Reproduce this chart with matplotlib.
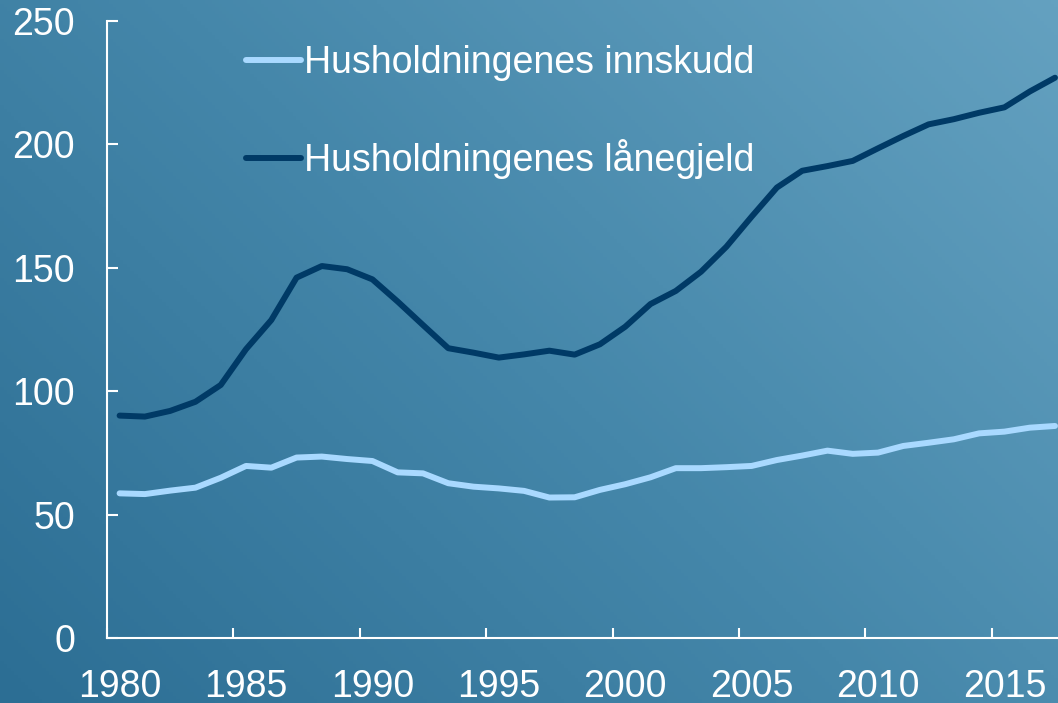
import numpy as np
import matplotlib
matplotlib.use('Agg')
import matplotlib.pyplot as plt
from matplotlib.colors import LinearSegmentedColormap

plt.rcParams['font.family'] = ['Liberation Sans', 'DejaVu Sans']

# data
years = list(range(1980, 2018))
innskudd = [58.6, 58.3, 59.7, 60.9, 64.9, 69.7, 69.0, 73.1, 73.5, 72.5,
            71.7, 67.1, 66.7, 62.7, 61.3, 60.6, 59.6, 56.9, 57.0, 60.0,
            62.3, 65.1, 68.8, 68.8, 69.2, 69.7, 72.1, 73.9, 75.9, 74.6,
            75.1, 77.8, 79.1, 80.5, 82.9, 83.6, 85.2, 85.9]
lanegjeld = [90.1, 89.7, 92.0, 95.7, 102.5, 117.0, 128.8, 146.0, 150.7, 149.4,
             145.3, 136.3, 126.8, 117.4, 115.6, 113.6, 114.9, 116.4, 114.8, 119.0,
             126.1, 135.3, 140.6, 148.4, 158.5, 170.7, 182.5, 189.3, 191.2, 193.3,
             198.4, 203.4, 208.1, 210.2, 212.8, 215.0, 221.4, 227.0]
labels = ['Husholdningenes innskudd', 'Husholdningenes lånegjeld']
light = '#a9d9ff'
dark = '#003a66'

fig = plt.figure(figsize=(10.58, 7.03), dpi=100)

# diagonal gradient background
bg = fig.add_axes([0, 0, 1, 1])
gx, gy = np.meshgrid(np.linspace(0, 1, 300), np.linspace(0, 1, 200))
grad = (gx * 1.058 + gy * 0.703) / (1.058 + 0.703)
cmap = LinearSegmentedColormap.from_list('bg', ['#2c6e94', '#4587aa', '#64a1c0'])
bg.imshow(grad, cmap=cmap, origin='lower', aspect='auto', extent=[0, 1, 0, 1])
bg.axis('off')

ax = fig.add_axes([0.1011, 0.0925, 0.908, 0.8777])
ax.patch.set_alpha(0)
x = np.array(years) + 0.5
ax.plot(x, innskudd, color=light, lw=4.3, solid_capstyle='round', label=labels[0])
ax.plot(x, lanegjeld, color=dark, lw=4.3, solid_capstyle='round', label=labels[1])

ax.set_xlim(1980, 2018)
ax.set_ylim(0, 250)
ax.set_yticks(range(0, 251, 50))
ax.set_xticks(range(1980, 2019, 5))
ax.set_xticklabels([])
ax.set_xticks([y + 0.5 for y in range(1980, 2016, 5)], minor=True)
ax.set_xticklabels([str(y) for y in range(1980, 2016, 5)], minor=True)
ax.tick_params(axis='x', which='major', direction='in', length=7, width=1.5, color='white')
ax.tick_params(axis='x', which='minor', length=0, pad=22, labelsize=27, labelcolor='white')
ax.tick_params(axis='y', direction='in', length=8, width=1.5, color='white',
               pad=23, labelsize=27, labelcolor='white')
for s in ['top', 'right']:
    ax.spines[s].set_visible(False)
for s in ['left', 'bottom']:
    ax.spines[s].set_color('white')
    ax.spines[s].set_linewidth(1.5)

leg = ax.legend(loc='upper left', bbox_to_anchor=(0.11, 1.016), frameon=False,
                fontsize=27, labelcolor='white', handlelength=1.45, handletextpad=0.08,
                labelspacing=1.55)

fig.savefig('out.png', dpi=100)
